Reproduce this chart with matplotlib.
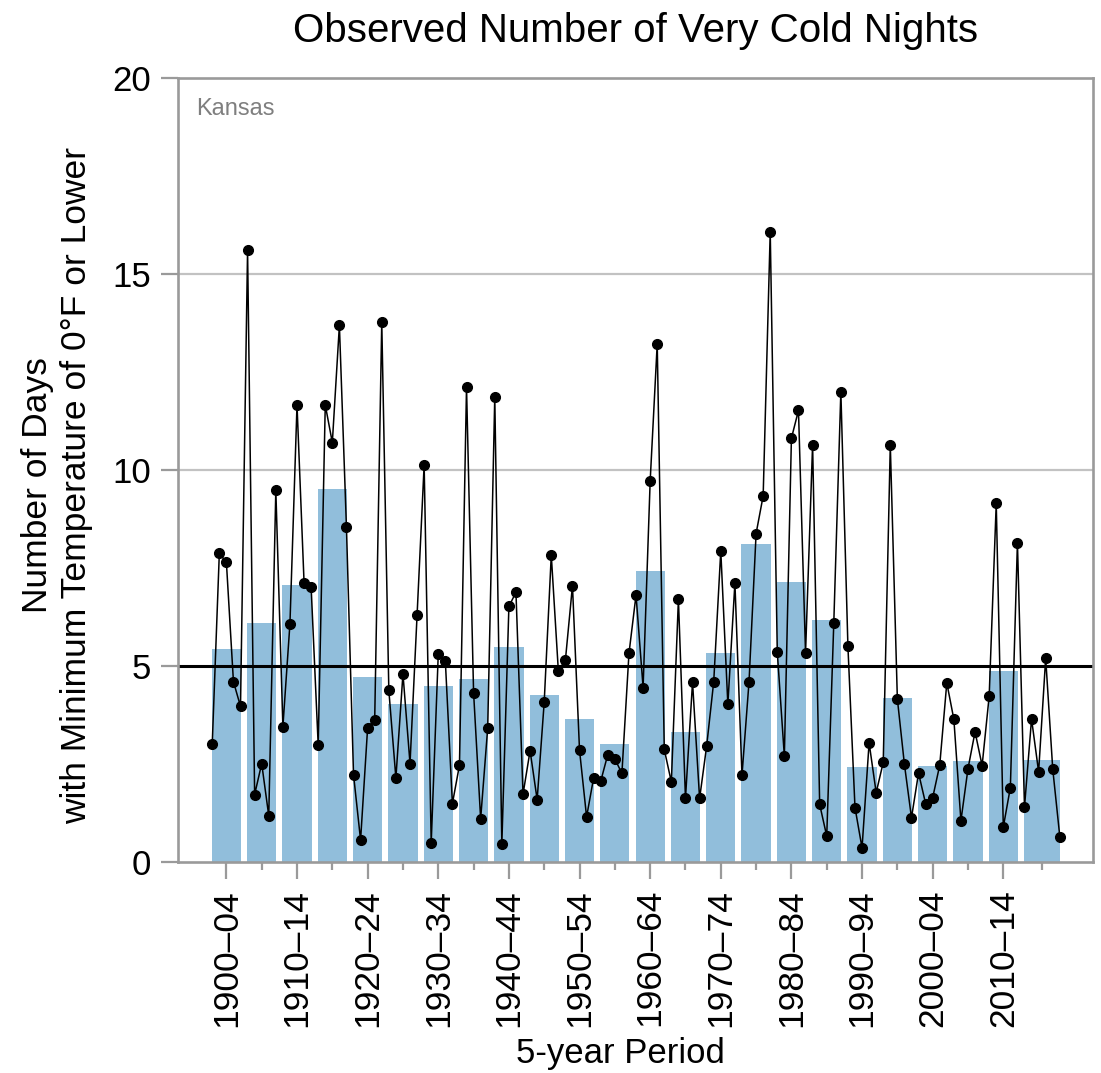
import matplotlib
matplotlib.use('Agg')
import matplotlib.pyplot as plt

plt.rcParams['font.family'] = ['Liberation Sans', 'DejaVu Sans']

# ---- data ----
state = 'Kansas'
years = list(range(1900, 2021))
cold_nights = [
    3.02, 7.87, 7.65, 4.60, 3.97, 15.60, 1.72, 2.51, 1.18, 9.49,
    3.45, 6.08, 11.66, 7.12, 7.01, 2.98, 11.66, 10.70, 13.69, 8.54,
    2.23, 0.56, 3.43, 3.63, 13.77, 4.38, 2.14, 4.80, 2.51, 6.30,
    10.13, 0.49, 5.31, 5.13, 1.49, 2.47, 12.12, 4.32, 1.10, 3.42,
    11.87, 0.45, 6.52, 6.88, 1.73, 2.84, 1.59, 4.08, 7.83, 4.88,
    5.15, 7.05, 2.85, 1.15, 2.15, 2.06, 2.74, 2.63, 2.26, 5.32,
    6.81, 4.45, 9.71, 13.22, 2.87, 2.04, 6.70, 1.62, 4.59, 1.62,
    2.96, 4.60, 7.94, 4.02, 7.12, 2.21, 4.60, 8.38, 9.34, 16.08,
    5.35, 2.70, 10.81, 11.52, 5.33, 10.65, 1.47, 0.66, 6.10, 12.00,
    5.50, 1.39, 0.36, 3.04, 1.77, 2.54, 10.64, 4.16, 2.49, 1.13,
    2.27, 1.49, 1.64, 2.47, 4.57, 3.64, 1.05, 2.38, 3.32, 2.46,
    4.23, 9.15, 0.89, 1.90, 8.15, 1.40, 3.65, 2.30, 5.20, 2.37,
    0.65,
]
period_start = [1900, 1905, 1910, 1915, 1920, 1925, 1930, 1935, 1940, 1945, 1950, 1955,
                1960, 1965, 1970, 1975, 1980, 1985, 1990, 1995, 2000, 2005, 2010, 2015]
period_end = [1904, 1909, 1914, 1919, 1924, 1929, 1934, 1939, 1944, 1949, 1954, 1959,
              1964, 1969, 1974, 1979, 1984, 1989, 1994, 1999, 2004, 2009, 2014, 2020]
period_avg = [5.43, 6.10, 7.06, 9.51, 4.71, 4.03, 4.50, 4.68, 5.49, 4.25, 3.66, 3.00,
              7.42, 3.32, 5.32, 8.11, 7.14, 6.17, 2.42, 4.18, 2.46, 2.58, 4.87, 2.59]
period_labels = ['1900–04', '1905–09', '1910–14', '1915–19', '1920–24', '1925–29',
                 '1930–34', '1935–39', '1940–44', '1945–49', '1950–54', '1955–59',
                 '1960–64', '1965–69', '1970–74', '1975–79', '1980–84', '1985–89',
                 '1990–94', '1995–99', '2000–04', '2005–09', '2010–14', '2015–20']
reference_value = 5.0
y_ticks = [0, 5, 10, 15, 20]

# ---- figure ----
W, H = 1101, 1073
fig = plt.figure(figsize=(W / 100, H / 100), dpi=100)
L, R, T, B = 178, 1093, 78, 862
ax = fig.add_axes([L / W, 1 - B / H, (R - L) / W, (B - T) / H])

spine_col = '#9a9a9a'
centers = [(s + e) / 2 for s, e in zip(period_start, period_end)]
widths = [(e - s) + 0.15 for s, e in zip(period_start, period_end)]

for g in [10, 15]:
    ax.axhline(g, color='#c2c2c2', lw=1.6, zorder=0)
ax.bar(centers, period_avg, width=widths, color='#91bedb', zorder=1)
ax.axhline(reference_value, color='black', lw=2.2, zorder=2)
ax.plot(years, cold_nights, color='black', lw=1.1, marker='o', ms=7, zorder=3)

ax.set_xlim(1895.15, 2024.7)
ax.set_ylim(0, 20)

for sp in ax.spines.values():
    sp.set_color(spine_col)
    sp.set_linewidth(1.9)

ax.set_yticks(y_ticks)
ax.set_yticklabels([str(v) for v in y_ticks])
ax.tick_params(axis='y', length=12.5, width=1.6, color=spine_col, labelsize=25, pad=7)

ax.set_xticks(centers[::2])
ax.set_xticklabels(period_labels[::2], rotation=90)
ax.set_xticks(centers[1::2], minor=True)
ax.tick_params(axis='x', which='major', length=12.5, width=1.6, color=spine_col,
               labelsize=25.5, pad=7)
ax.tick_params(axis='x', which='minor', length=6, width=1.6, color=spine_col)

ax.text(18 / (R - L), 0.975, state, transform=ax.transAxes, ha='left', va='top',
        fontsize=17, color='#7f7f7f')

fig.text((L + R) / 2 / W, 1 - 42 / H, 'Observed Number of Very Cold Nights',
         ha='center', va='baseline', fontsize=29)
fig.text(620 / W, 1 - 1053 / H, '5-year Period', ha='center', va='center', fontsize=25)
fig.text(57 / W, 1 - 485 / H,
         'Number of Days\nwith Minimum Temperature of 0°F or Lower',
         ha='center', va='center', rotation=90, fontsize=25.5, multialignment='center',
         linespacing=1.25)

fig.savefig('out.png', dpi=100)
